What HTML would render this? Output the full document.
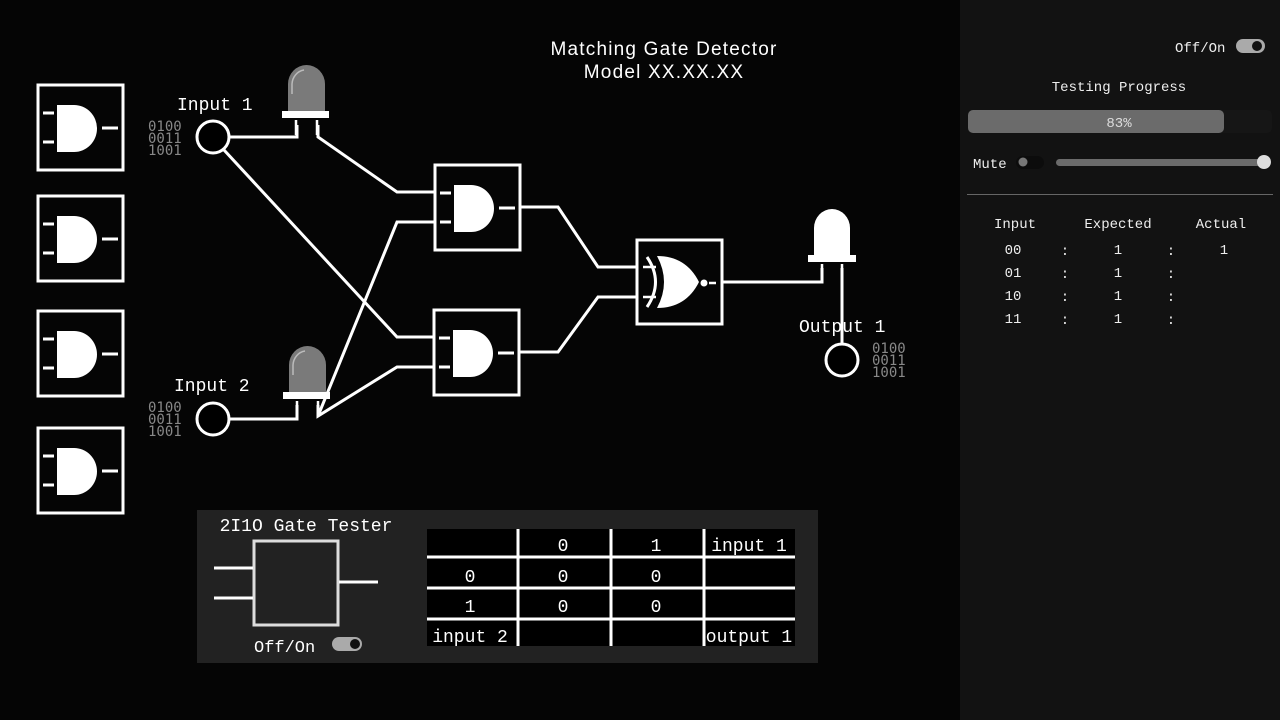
<!DOCTYPE html>
<html><head><meta charset="utf-8"><style>
html,body{margin:0;padding:0;background:#050505;}
body{width:1280px;height:720px;overflow:hidden;position:relative;font-family:"Liberation Sans","DejaVu Sans",sans-serif;}
svg{position:absolute;left:0;top:0}
</style></head><body>
<svg width="1280" height="720" viewBox="0 0 1280 720" xmlns="http://www.w3.org/2000/svg">
<defs>
<g id="and">
<rect x="0" y="0" width="85" height="85" fill="none" stroke="#fff" stroke-width="3"/>
<path d="M19,20 H36 A23,23.5 0 0 1 36,67 H19 Z" fill="#fff"/>
<path d="M5,28 H16 M5,57 H16 M64,43 H80" stroke="#fff" stroke-width="3"/>
</g>
<g id="ledg">
<path d="M6,48 V20 A18.5,19 0 0 1 43,20 V48 Z" fill="#7a7a7a"/>
<path d="M10,30 V20 A14,15 0 0 1 22,6" fill="none" stroke="#bbb" stroke-width="1.5"/>
<rect x="0" y="47" width="47" height="7" fill="#fff"/>
<path d="M14,56 V71 M35,56 V71" stroke="#fff" stroke-width="2.5"/>
</g>
</defs>
<rect x="960" y="0" width="320" height="720" fill="#121212"/>

<use href="#and" x="38" y="85"/>
<use href="#and" x="38" y="196"/>
<use href="#and" x="38" y="311"/>
<use href="#and" x="38" y="428"/>

<g stroke="#fff" stroke-width="3" fill="none">
<path d="M229,137 H297 V125"/>
<path d="M318,125 V137 L397,192 H435"/>
<path d="M224,150 L397,337 H434"/>
<path d="M435,222 H397 L318,416"/>
<path d="M229,419 H297 V405"/>
<path d="M318,405 V416 L397,367 H434"/>
<path d="M520,207 H558 L598,267 H637"/>
<path d="M519,352 H558 L598,297 H637"/>
<path d="M722,282 H822 V268"/>
<path d="M842,268 V344"/>
</g>

<use href="#and" x="435" y="165"/>
<use href="#and" x="434" y="310"/>

<rect x="637" y="240" width="85" height="84" fill="none" stroke="#fff" stroke-width="3"/>
<path d="M657,256 Q686,256 699,282 Q686,308 657,308 Q671,282 657,256 Z" fill="#fff"/>
<path d="M647,257 Q664,282 647,307" fill="none" stroke="#fff" stroke-width="3"/>
<path d="M643,267 H656 M643,297 H656 M709,283 H716" stroke="#fff" stroke-width="2.5"/>
<circle cx="704" cy="283" r="3.5" fill="#fff"/>

<use href="#ledg" x="282" y="64"/>
<use href="#ledg" x="283" y="345"/>
<g>
<path d="M814,256 V228 A18,19 0 0 1 850,228 V256 Z" fill="#fff"/>
<rect x="808" y="255" width="48" height="7" fill="#fff"/>
<path d="M822,264 V276 M842,264 V276" stroke="#fff" stroke-width="2.5"/>
</g>

<g fill="#000" stroke="#fff" stroke-width="3">
<circle cx="213" cy="137" r="16"/>
<circle cx="213" cy="419" r="16"/>
<circle cx="842" cy="360" r="16"/>
</g>

<g font-family="Liberation Mono, monospace" font-size="18" fill="#fff">
<text x="177" y="110">Input 1</text>
<text x="174" y="391">Input 2</text>
<text x="799" y="332">Output 1</text>
</g>
<g font-family="DejaVu Sans Mono, monospace" font-size="14" fill="#888">
<text x="148" y="131">0100</text><text x="148" y="143">0011</text><text x="148" y="155">1001</text>
<text x="148" y="412">0100</text><text x="148" y="424">0011</text><text x="148" y="436">1001</text>
<text x="872" y="353">0100</text><text x="872" y="365">0011</text><text x="872" y="377">1001</text>
</g>
<g font-family="Liberation Sans, sans-serif" font-size="19" fill="#fff" text-anchor="middle" letter-spacing="1.2">
<text x="664" y="55">Matching Gate Detector</text>
<text x="664" y="78">Model XX.XX.XX</text>
</g>

<rect x="197" y="510" width="621" height="153" fill="#222"/>
<text x="306" y="531" font-family="Liberation Mono, monospace" font-size="18" fill="#fff" text-anchor="middle">2I1O Gate Tester</text>
<rect x="254" y="541" width="84" height="84" fill="none" stroke="#ddd" stroke-width="3"/>
<path d="M214,568 H253 M214,598 H253 M339,582 H378" stroke="#fff" stroke-width="3"/>
<text x="254" y="652" font-family="Liberation Mono, monospace" font-size="17" fill="#fff">Off/On</text>
<rect x="332" y="637" width="30" height="14" rx="7" fill="#aaa"/>
<circle cx="355" cy="644" r="5" fill="#111"/>
<rect x="427" y="529" width="368" height="117" fill="#000"/>
<path d="M518,529 V646 M611,529 V646 M704,529 V646 M427,557 H795 M427,588 H795 M427,619 H795" stroke="#fff" stroke-width="3"/>
<g font-family="Liberation Mono, monospace" font-size="18" fill="#fff" text-anchor="middle">
<text x="563" y="551">0</text><text x="656" y="551">1</text><text x="749" y="551">input 1</text>
<text x="470" y="582">0</text><text x="563" y="582">0</text><text x="656" y="582">0</text>
<text x="470" y="612">1</text><text x="563" y="612">0</text><text x="656" y="612">0</text>
<text x="470" y="642">input 2</text><text x="749" y="642">output 1</text>
</g>

<g font-family="Liberation Mono, monospace" font-size="14" fill="#eee">
<text x="1175" y="52">Off/On</text>
<text x="1119" y="91" text-anchor="middle">Testing Progress</text>
<text x="973" y="168">Mute</text>
</g>
<rect x="1236" y="39" width="29" height="14" rx="7" fill="#aaa"/>
<circle cx="1257" cy="46" r="5" fill="#111"/>
<rect x="968" y="110" width="304" height="23" rx="5" fill="#161616"/>
<rect x="968" y="110" width="256" height="23" rx="5" fill="#6b6b6b"/>
<text x="1119" y="127" font-family="Liberation Mono, monospace" font-size="14" fill="#ddd" text-anchor="middle">83%</text>
<rect x="1016" y="156" width="28" height="13" rx="6.5" fill="#0c0c0c"/>
<circle cx="1023" cy="162" r="4.5" fill="#777"/>
<rect x="1056" y="159" width="208" height="7" rx="3.5" fill="#6b6b6b"/>
<circle cx="1264" cy="162" r="7" fill="#ddd"/>
<path d="M967,194.5 H1273" stroke="#666" stroke-width="1"/>
<g font-family="Liberation Mono, monospace" font-size="14" fill="#eee" text-anchor="middle">
<text x="1015" y="228">Input</text><text x="1118" y="228">Expected</text><text x="1221" y="228">Actual</text>
<text x="1013" y="254">00</text><text x="1065" y="255">:</text><text x="1118" y="254">1</text><text x="1171" y="255">:</text><text x="1224" y="254">1</text>
<text x="1013" y="277">01</text><text x="1065" y="278">:</text><text x="1118" y="277">1</text><text x="1171" y="278">:</text>
<text x="1013" y="300">10</text><text x="1065" y="301">:</text><text x="1118" y="300">1</text><text x="1171" y="301">:</text>
<text x="1013" y="323">11</text><text x="1065" y="324">:</text><text x="1118" y="323">1</text><text x="1171" y="324">:</text>
</g>
</svg>
</body></html>
